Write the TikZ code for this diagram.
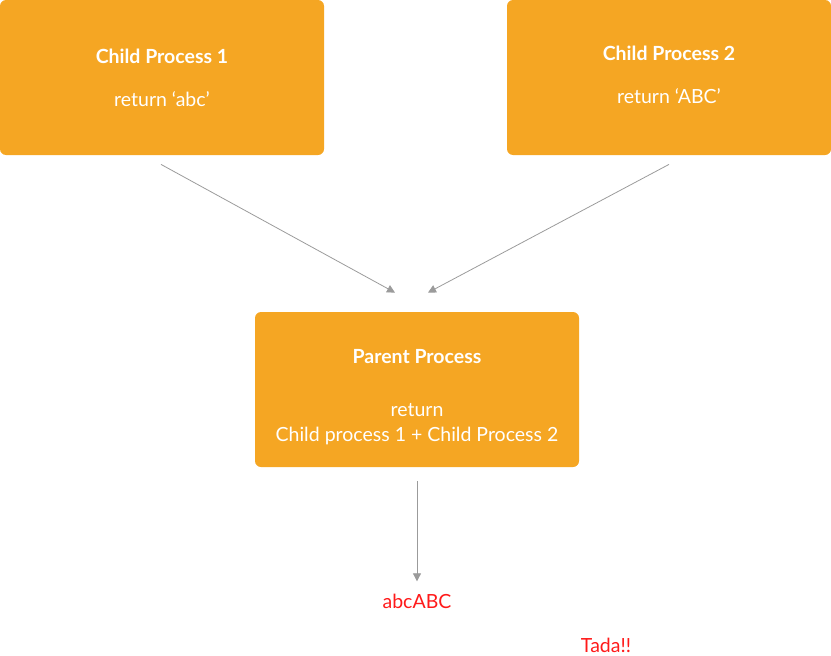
\documentclass[tikz,border=0pt]{standalone}
\usepackage{fontspec}
\setmainfont{Lato}
\usetikzlibrary{arrows.meta,positioning}
\definecolor{procorange}{HTML}{F5A623}
\definecolor{arrowgray}{HTML}{9B9B9B}
\definecolor{resultred}{HTML}{FF1A1A}

\begin{document}
\begin{tikzpicture}[x=1pt,y=-1pt,-{Triangle[length=8pt,width=8pt]},
                    line width=0.8pt,draw=arrowgray,font=\fontsize{19.5}{25}\selectfont]
  \tikzstyle{process}=[fill=procorange,draw=none,rounded corners=6pt,text=white,
                       minimum width=324pt,minimum height=155pt,align=center,inner sep=0pt]
  \tikzstyle{result}=[text=resultred,inner sep=0pt]

  \useasboundingbox (0,0) rectangle (831,656);

  \node[process]  (Child1)  at (162,77.5)   {\textbf{Child Process 1}\\[18pt]return ‘abc’};
  \node[process]  (Child2)  at (669,77.5)   {\textbf{Child Process 2}\\[18pt]return ‘ABC’\\[-19pt]};
  \node[process]  (Parent)  at (417,389.5)  {\\[4pt]\textbf{Parent Process}\\[28pt]return\\Child process 1 + Child Process 2};
  \node[result]   (Joined)  at (417,601)    {abcABC};
  \node[result]   (Tada)    at (606,645)    {Tada!!};

  \coordinate (Out1) at ([xshift=-1pt,yshift=-9pt]Child1.south);
  \coordinate (Out2) at ([yshift=-9pt]Child2.south);
  \coordinate (In1)  at ([xshift=-22pt,yshift=19pt]Parent.north);
  \coordinate (In2)  at ([xshift=11pt,yshift=19pt]Parent.north);
  \coordinate (Out3) at ([yshift=-14pt]Parent.south);

  \path (Out1)   edge  (In1)
        (Out2)   edge  (In2)
        (Out3)   edge  ([yshift=12pt]Joined.north);
\end{tikzpicture}
\end{document}
